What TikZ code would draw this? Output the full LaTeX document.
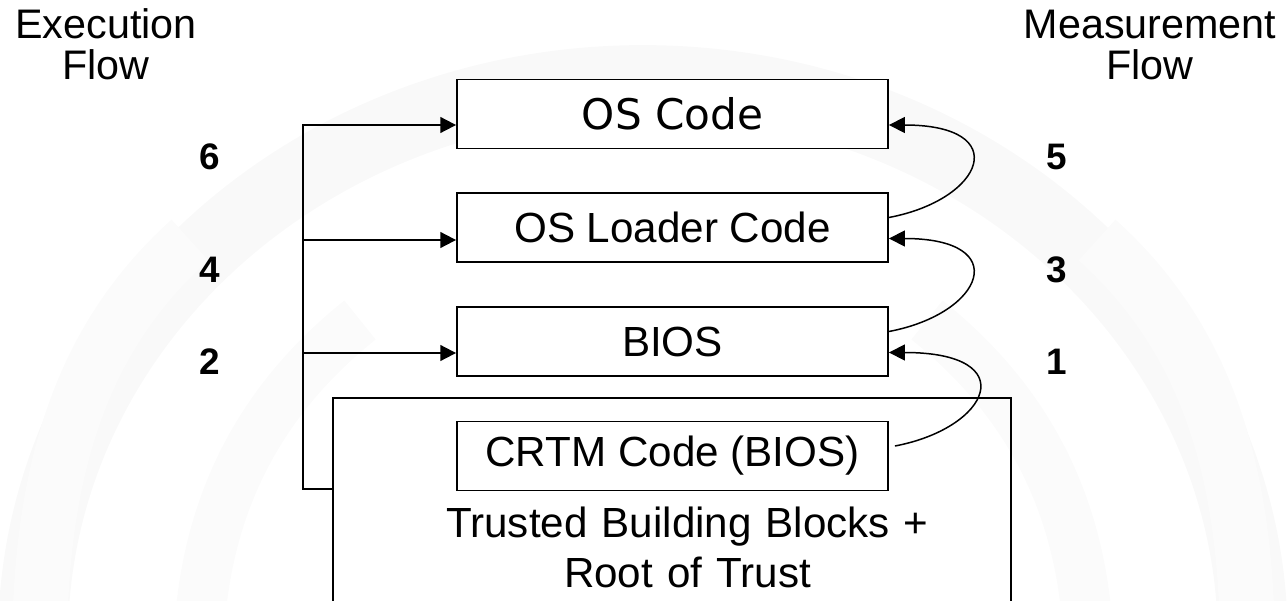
\documentclass[tikz,border=0pt]{standalone}
\usepackage{fontspec}
\setmainfont{Liberation Sans}
\newfontfamily\dejavu{DejaVu Sans}
\usetikzlibrary{arrows.meta}

\tikzset{
  block/.style={draw, line width=1.1pt, fill=white, minimum width=8.62cm,
    minimum height=1.38cm, inner sep=0pt, font=\fontsize{24}{28}\selectfont},
  exec/.style={line width=1.1pt, -{Triangle[length=9pt,width=9pt]}},
  meas/.style={line width=0.85pt, -{Triangle[length=9pt,width=9pt]}},
  num/.style={font=\bfseries\fontsize{21}{24}\selectfont},
  head/.style={align=center, fill=white, inner xsep=0.5cm,
    font=\fontsize{23.5}{23.5}\selectfont},
  wm/.style={draw=gray!5, line cap=butt}
}

\begin{document}
\begin{tikzpicture}[x=0.02cm, y=-0.02cm]
\useasboundingbox (0,0) rectangle (1287,601);

% faint backdrop
\draw[wm, line width=1.4cm] (33,640) arc[start angle=180, end angle=0, x radius=12.2cm, y radius=11.2cm];
\draw[wm, draw=gray!3, line width=1.1cm] (40,620) .. controls (45,450) and (90,330) .. (190,240);
\draw[wm, draw=gray!3, line width=1cm] (200,620) .. controls (210,500) and (260,400) .. (360,320);
\draw[wm, draw=gray!3, line width=1.1cm] (1247,620) .. controls (1242,450) and (1197,330) .. (1097,240);
\draw[wm, draw=gray!3, line width=1cm] (1087,620) .. controls (1077,500) and (1027,400) .. (927,320);

% headings and step numbers (base = last line)
\node[head, anchor=base] (eflow) at (106,80) {Execution\\Flow};
\node[head, anchor=base] (mflow) at (1150,80) {Measurement\\Flow};

\node[num] (n6) at (210,157) {6};
\node[num] (n4) at (210,270) {4};
\node[num] (n2) at (210,362) {2};
\node[num] (n5) at (1057,157) {5};
\node[num] (n3) at (1057,270) {3};
\node[num] (n1) at (1057,362) {1};

% trusted building blocks
\draw[line width=0.9pt] (333,620) -- (333,398) -- (1011,398) -- (1011,620);
\node[anchor=north, fill=white, text width=11.7cm, align=center, inner xsep=0pt,
  inner ysep=10.5pt, font=\fontsize{24}{28.5}\selectfont] (tbb) at (687.5,488)
  {Trusted Building Blocks +\\Root of Trust};

% boot chain
\node[block] (os) at (672.5,114) {\dejavu OS Code};
\node[block] (ldr) at (672.5,227.5) {OS Loader Code};
\node[block] (bios) at (672.5,341.5) {BIOS};
\node[block] (crtm) at (672.5,456) {CRTM Code (BIOS)};

% execution flow
\coordinate (base) at (333,489);
\coordinate (x6) at (303,125);
\coordinate (x4) at (303,240);
\coordinate (x2) at (303,353);
\draw[exec] (base) -- (base -| x6) -- (x6) -- (x6 -| os.west);
\draw[exec] (x4) -- (x4 -| ldr.west);
\draw[exec] (x2) -- (x2 -| bios.west);

% measurement flow
\draw[meas] ([yshift=0.2cm]ldr.east) .. controls +(95,-18) and +(125,0) .. ([yshift=-0.22cm]os.east);
\draw[meas] ([yshift=0.2cm]bios.east) .. controls +(95,-18) and +(125,0) .. ([yshift=-0.22cm]ldr.east);
\draw[meas] ([xshift=0.12cm,yshift=0.2cm]crtm.east) .. controls +(95,-18) and +(135,0) .. ([yshift=-0.22cm]bios.east);

\end{tikzpicture}
\end{document}
